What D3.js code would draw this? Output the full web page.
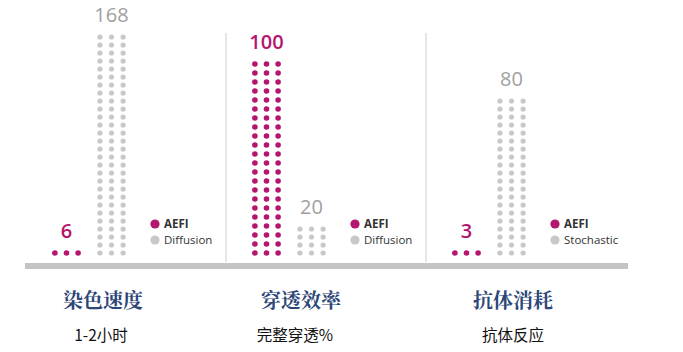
<!DOCTYPE html>
<html>
<head>
<meta charset="utf-8">
<script src="https://cdn.jsdelivr.net/npm/d3@7"></script>
<style>
  html, body { margin: 0; padding: 0; background: #ffffff; }
  svg { display: block; }
</style>
</head>
<body>
<div id="chart"></div>
<script>
// 分类与数据
const categories = ["染色速度", "穿透效率", "抗体消耗"];
const subtitles = ["1-2小时", "完整穿透%", "抗体反应"];
const seriesKeys = ["AEFI", "other"];
const aefiValues = [6, 100, 3];
const otherValues = [168, 20, 80];
const otherNames = ["Diffusion", "Diffusion", "Stochastic"];
// 每列点阵的行数
const aefiRows = [1, 22, 1];
const otherRows = [28, 4, 20];

const width = 683;
const height = 352;
const baseY = 253;

const colors = { AEFI: "#b3156f", other: "#c8c8c8" };
const labelColors = { AEFI: "#b3156f", other: "#a0a0a0" };
const rowPitch = { AEFI: 9, other: 8 };
const dotRadius = { AEFI: 2.8, other: 2.6 };

const svg = d3
  .select("#chart")
  .append("svg")
  .attr("width", width)
  .attr("height", height);

// 面板位置
const x = d3.scaleBand().domain(categories).range([20, 620]);
const xs = d3.scaleBand().domain(seriesKeys).range([24, 114]);
const xc = d3.scaleLinear().domain([-1, 1]).range([-11.6, 11.6]);
// 标题位置（原图中的标题并非严格等距）
const xTitle = d3.scaleOrdinal().domain(categories).range([103, 301, 513]);
const xSub = d3.scaleOrdinal().domain(categories).range([101, 295, 513]);

const panels = categories.map((c, i) => ({
  name: c,
  sub: subtitles[i],
  series: [
    { key: "AEFI", label: "AEFI", value: aefiValues[i], rows: aefiRows[i] },
    { key: "other", label: otherNames[i], value: otherValues[i], rows: otherRows[i] }
  ]
}));

// 分隔线
svg
  .selectAll(".sep")
  .data(categories.slice(1))
  .join("line")
  .attr("class", "sep")
  .attr("x1", d => x(d) + 6)
  .attr("x2", d => x(d) + 6)
  .attr("y1", 33)
  .attr("y2", 262)
  .attr("stroke", "#dedede")
  .attr("stroke-width", 1.5);

// 底部横条
svg
  .append("rect")
  .attr("x", 25)
  .attr("y", 263)
  .attr("width", 603)
  .attr("height", 6)
  .attr("fill", "#c4c4c4");

const g = svg
  .selectAll(".panel")
  .data(panels)
  .join("g")
  .attr("class", "panel")
  .attr("transform", d => `translate(${x(d.name)},0)`);

const cols = g
  .selectAll(".col")
  .data(d => d.series)
  .join("g")
  .attr("class", "col")
  .attr("transform", d => `translate(${xs(d.key) + xs.bandwidth() / 2},0)`);

// 点阵
cols.each(function(d) {
  const y = d3
    .scaleLinear()
    .domain([0, 1])
    .range([baseY, baseY - rowPitch[d.key]]);
  const dots = [];
  d3.range(d.rows).forEach(r => {
    [-1, 0, 1].forEach(c => dots.push({ r, c }));
  });
  d3.select(this)
    .selectAll("circle")
    .data(dots)
    .join("circle")
    .attr("cx", p => xc(p.c))
    .attr("cy", p => y(p.r))
    .attr("r", dotRadius[d.key])
    .attr("fill", colors[d.key]);

  d3.select(this)
    .append("text")
    .attr("x", 0)
    .attr("y", y(d.rows - 1) - 15)
    .attr("text-anchor", "middle")
    .attr("font-family", "'Open Sans', 'Noto Sans', sans-serif")
    .attr("font-size", 20)
    .attr("font-weight", d.key === "AEFI" ? 600 : 400)
    .attr("fill", labelColors[d.key])
    .text(d.value);
});

// 图例
const legend = g
  .selectAll(".legend")
  .data(d => d.series)
  .join("g")
  .attr("class", "legend")
  .attr("transform", (d, i) => `translate(135,${224 + i * 16})`);

legend
  .append("circle")
  .attr("r", 4.6)
  .attr("fill", d => colors[d.key]);

legend
  .append("text")
  .attr("x", 9)
  .attr("dy", "0.35em")
  .attr("font-family", "'Open Sans', 'Noto Sans', sans-serif")
  .attr("font-size", 11.5)
  .attr("font-weight", d => (d.key === "AEFI" ? 700 : 400))
  .attr("fill", "#333333")
  .text(d => d.label);

// 标题
svg
  .selectAll(".title")
  .data(panels)
  .join("text")
  .attr("class", "title")
  .attr("x", d => xTitle(d.name))
  .attr("y", 308)
  .attr("text-anchor", "middle")
  .attr("font-family", "'Noto Serif CJK SC', 'Noto Sans CJK SC', serif")
  .attr("font-size", 20)
  .attr("font-weight", 700)
  .attr("fill", "#2c4677")
  .text(d => d.name);

svg
  .selectAll(".sub")
  .data(panels)
  .join("text")
  .attr("class", "sub")
  .attr("x", d => xSub(d.name))
  .attr("y", 341)
  .attr("text-anchor", "middle")
  .attr("font-family", "'Noto Sans CJK SC', sans-serif")
  .attr("font-size", 15.5)
  .attr("fill", "#111111")
  .text(d => d.sub);
</script>
</body>
</html>
